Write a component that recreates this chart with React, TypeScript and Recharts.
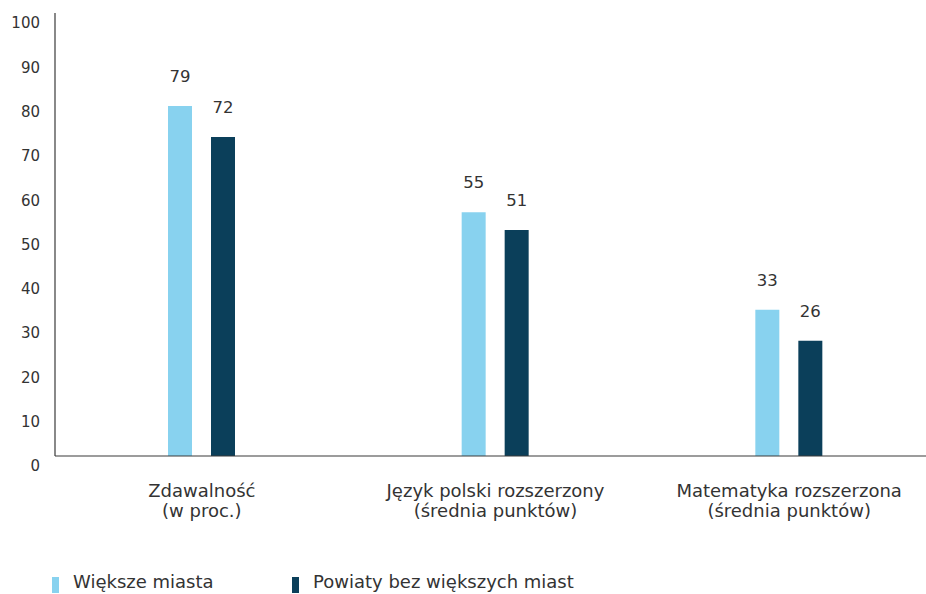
import React from 'react';
import { BarChart, Bar, XAxis, YAxis, LabelList, Legend } from 'recharts';

const categories = [
  'Zdawalność\n(w proc.)',
  'Język polski rozszerzony\n(średnia punktów)',
  'Matematyka rozszerzona\n(średnia punktów)',
];
const largeCities = [79, 55, 33];
const otherCounties = [72, 51, 26];
const yTicks = [0, 10, 20, 30, 40, 50, 60, 70, 80, 90, 100];
const seriesNames = ['Większe miasta', 'Powiaty bez większych miast'];
const seriesKeys = ['large', 'other'];

const LIGHT = '#88d2ef';
const DARK = '#0b3f5a';
const seriesColors = [LIGHT, DARK];
const TEXT = '#333333';
const FONT = '"DejaVu Sans", sans-serif';

const data = categories.map((c, i) => ({
  category: c,
  large: largeCities[i],
  other: otherCounties[i],
}));

const YTick = (props: any) => {
  const { x, y, payload } = props;
  return (
    <text x={x} y={y + 10} dy="0.355em" textAnchor="end" fill={TEXT} fontSize={15} fontFamily={FONT}>
      {payload.value}
    </text>
  );
};

const XTick = (props: any) => {
  const { x, y, payload } = props;
  const lines = String(payload.value).split('\n');
  return (
    <text x={x} y={y} textAnchor="middle" fill={TEXT} fontSize={18} fontFamily={FONT}>
      {lines.map((l, i) => (
        <tspan key={i} x={x} dy={i === 0 ? 33 : 20}>
          {l}
        </tspan>
      ))}
    </text>
  );
};

const legendLefts = [52, 292];

const LegendContent = (props: any) => {
  const payload = props.payload || [];
  const items = seriesKeys.map((k, i) => {
    const p = payload.find((q: any) => q.dataKey === k);
    return { name: p ? p.value : seriesNames[i], color: p ? p.color : seriesColors[i] };
  });
  return (
    <div style={{ position: 'relative', width: 926, height: 24 }}>
      {items.map((p, i) => (
        <div
          key={i}
          style={{
            position: 'absolute',
            left: legendLefts[i],
            top: 0,
            display: 'flex',
            alignItems: 'center',
            height: 24,
            whiteSpace: 'nowrap',
          }}
        >
          <span style={{ display: 'inline-block', width: 7, height: 16, background: p.color, marginRight: 14 }} />
          <span style={{ fontFamily: FONT, fontSize: 18, lineHeight: '20px', color: TEXT, position: 'relative', top: -3 }}>
            {p.name}
          </span>
        </div>
      ))}
    </div>
  );
};

export default function App() {
  return (
    <div style={{ position: 'absolute', left: 0, top: 0, width: 926, height: 594, overflow: 'hidden', background: '#fff' }}>
      <BarChart
        width={936}
        height={594}
        data={data}
        margin={{ top: 13, right: 0, left: 0, bottom: 54 }}
        barSize={24}
        barGap={19}
      >
        <XAxis
          dataKey="category"
          axisLine={{ stroke: '#3a3a3a', strokeWidth: 1.2 }}
          tickLine={false}
          height={60}
          interval={0}
          tick={<XTick />}
        />
        <YAxis
          type="number"
          domain={[0, 100]}
          ticks={yTicks}
          width={55}
          axisLine={{ stroke: '#3a3a3a', strokeWidth: 1.2 }}
          tickLine={false}
          tickMargin={9}
          tick={<YTick />}
          interval={0}
        />
        <Legend
          verticalAlign="bottom"
          content={<LegendContent />}
          wrapperStyle={{ left: 0, top: 573, width: 926, height: 24 }}
        />
        <Bar dataKey="large" name={seriesNames[0]} fill={LIGHT} isAnimationActive={false}>
          <LabelList dataKey="large" position="top" offset={24} fill={TEXT} fontSize={16.5} fontFamily={FONT} />
        </Bar>
        <Bar dataKey="other" name={seriesNames[1]} fill={DARK} isAnimationActive={false}>
          <LabelList dataKey="other" position="top" offset={24} fill={TEXT} fontSize={16.5} fontFamily={FONT} />
        </Bar>
      </BarChart>
    </div>
  );
}
